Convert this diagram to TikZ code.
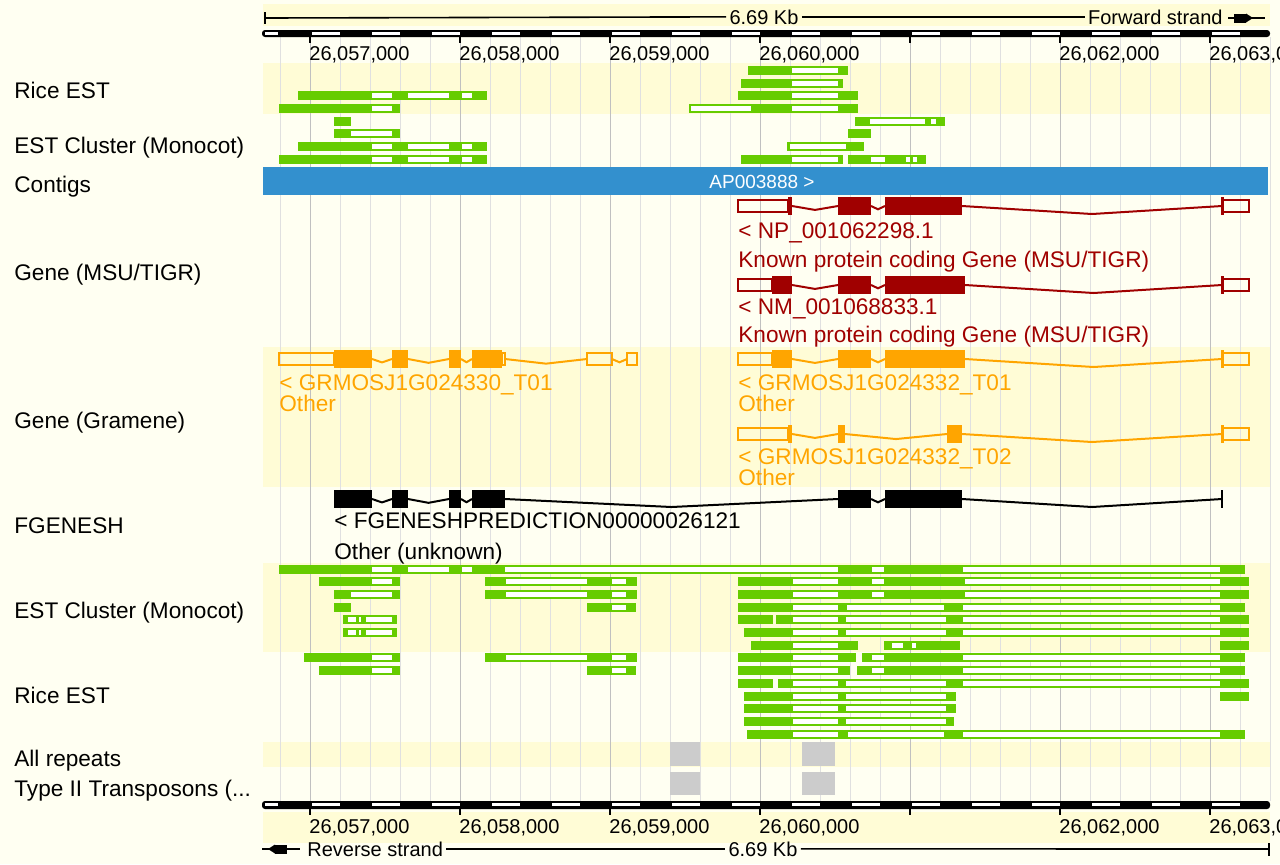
\documentclass[tikz,border=0pt]{standalone}
\usepackage{fontspec}
\setmainfont{Liberation Sans}

\definecolor{cream}{RGB}{255,255,242}
\definecolor{band}{RGB}{255,252,214}
\definecolor{estgreen}{RGB}{102,204,0}
\definecolor{msured}{RGB}{160,0,0}
\definecolor{gramorange}{RGB}{255,165,0}
\definecolor{contigblue}{RGB}{51,144,206}
\definecolor{repeatgrey}{RGB}{204,204,204}
\definecolor{gridlight}{RGB}{224,224,224}
\definecolor{gridmajor}{RGB}{192,192,192}

\tikzset{
  tracklabel/.style={anchor=base west,inner sep=0pt,font=\fontsize{11.3}{13}\selectfont},
  featlabel/.style={anchor=base west,inner sep=0pt,font=\fontsize{11.3}{13}\selectfont},
  rulerlabel/.style={anchor=base west,inner sep=0pt,font=\fontsize{10}{12}\selectfont},
  scaletext/.style={inner xsep=1.5pt,inner ysep=0pt,font=\fontsize{10}{12}\selectfont}
}

% top y, green spans, white spans
\newcommand{\estrow}[3]{%
  \foreach \ga/\gb in {#2}{\fill[estgreen] (\ga,#1) rectangle (\gb,#1+9);}
  \foreach \wa/\wb in {#3}{\fill[white] (\wa,#1+2) rectangle (\wb,#1+7);}}

% colour, centre y, UTR spans, coding spans, intron spans
\newcommand{\transcript}[5]{%
  \foreach \ua/\ub in {#3}{\draw[#1,line width=1pt] (\ua,#2-6) rectangle (\ub,#2+6);}
  \foreach \ca/\cb in {#4}{\fill[#1] (\ca,#2-9) rectangle (\cb,#2+9);}
  \foreach \ia/\ib in {#5}{\draw[#1,line width=1pt]
    (\ia,#2) -- ({(\ia+\ib)/2},{#2+min(8,3+(\ib-\ia)/50)}) -- (\ib,#2);}}

\begin{document}
\begin{tikzpicture}[x=0.5pt,y=-0.5pt]
  \fill[cream] (0,0) rectangle (1280,864);
  \useasboundingbox (0,0) rectangle (1280,864);

  \foreach \ya/\yb in {4/26,63/114,347/487,563/652,742/767,812/843}
    \fill[band] (263,\ya) rectangle (1270,\yb);

  \foreach \g in {0,...,33}
    \draw[gridlight,line width=0.5pt] (280+30*\g,37) -- (280+30*\g,801);
  \foreach \t in {310,460,...,1210}
    \draw[gridmajor,line width=0.5pt] (\t,37) -- (\t,801);

  % scale bars
  \fill[black,rounded corners=1.5] (262,30) rectangle (1270,37);
  \fill[black,rounded corners=1.5] (262,801) rectangle (1270,809);
  \fill[white] (265,32) rectangle (278,35);
  \fill[white] (265,803) rectangle (278,806);
  \foreach \k in {0,...,15}{
    \fill[white] (312+60*\k,32) rectangle (340+60*\k,35);
    \fill[white] (312+60*\k,803) rectangle (340+60*\k,806);
  }
  \foreach \t in {310,460,...,1210}{
    \draw[line width=0.6pt] (\t,37) -- (\t,43);
    \draw[line width=0.6pt] (\t,809) -- (\t,815);
  }
  \foreach \t/\lab in {310/{26,057,000},460/{26,058,000},610/{26,059,000},760/{26,060,000},1060/{26,062,000},1210/{26,063,000}}{
    \node (rtop\t) [rulerlabel] at (\t-1,60) {\lab};
    \node (rbot\t) [rulerlabel] at (\t-1,833) {\lab};
  }

  \coordinate (scaleL) at (265,18);
  \node (kbTop) [scaletext,anchor=base] at (764,24) {6.69 Kb};
  \node (fwd) [scaletext,anchor=base east] at (1226,24) {Forward strand};
  \draw[line width=0.8pt] (265,12) -- (265,24);
  \draw[line width=0.8pt] (scaleL) -- (kbTop.west);
  \draw[line width=0.8pt] (kbTop.east) -- (fwd.west);
  \draw[line width=1pt] (1228,18) -- (1265,18);
  \fill (1234,13.5) rectangle (1246,22.5);
  \fill (1246,13.5) -- (1253,18) -- (1246,22.5) -- cycle;

  \coordinate (scaleR) at (1269,849);
  \node (rev) [scaletext,anchor=base west] at (304,856) {Reverse strand};
  \node (kbBot) [scaletext,anchor=base] at (763,856) {6.69 Kb};
  \draw[line width=0.8pt] (rev.east) -- (kbBot.west);
  \draw[line width=0.8pt] (kbBot.east) -- (scaleR);
  \draw[line width=0.8pt] (1269,843) -- (1269,856);
  \draw[line width=1pt] (262,849) -- (300,849);
  \fill (275,844.5) rectangle (287,853.5);
  \fill (275,844.5) -- (268,849) -- (275,853.5) -- cycle;

  % track names
  \node (lRiceTop) [tracklabel] at (14,98) {Rice EST};
  \node (lClusterTop) [tracklabel] at (14,153) {EST Cluster (Monocot)};
  \node (lContigs) [tracklabel] at (14,192) {Contigs};
  \node (lMsu) [tracklabel] at (14,280) {Gene (MSU/TIGR)};
  \node (lGramene) [tracklabel] at (14,428) {Gene (Gramene)};
  \node (lFgenesh) [tracklabel] at (14,533) {FGENESH};
  \node (lClusterBot) [tracklabel] at (14,618) {EST Cluster (Monocot)};
  \node (lRiceBot) [tracklabel] at (14,703) {Rice EST};
  \node (lRepeats) [tracklabel] at (14,766) {All repeats};
  \node (lTransposons) [tracklabel] at (14,796) {Type II Transposons (...};

  % ESTs, top
  \estrow{66}{748/848}{792/838}
  \estrow{79}{741/843}{792/838}
  \estrow{91}{298/487,738/858}{372/392,408/449,462/472,792/838}
  \estrow{104}{279/400,689/858}{372/392,691/751,792/838}
  \estrow{117}{334/351,855/945}{870/925,931/936}
  \estrow{129}{334/400,848/871}{351/392}
  \estrow{142}{298/487,787/864}{372/392,408/449,462/472,790/846}
  \estrow{155}{279/487,741/843,848/926}{372/392,408/449,462/472,792/838,871/885,906/910,913/917}

  % contig
  \fill[contigblue] (263,167) rectangle (1268,195);
  \node (contig) [anchor=base,inner sep=0pt,white,font=\fontsize{9.5}{11}\selectfont] at (762,188) {AP003888 >};

  % genes
  \transcript{msured}{206}{738/788,1222/1249}{788/792,838/871,885/962,1221/1224}{792/838,871/885,962/1222}
  \node (np) [featlabel,msured] at (738,238) {< NP\_001062298.1};
  \node (npType) [featlabel,msured] at (738,267) {Known protein coding Gene (MSU/TIGR)};
  \transcript{msured}{285}{738/772,1222/1249}{772/792,838/871,885/965,1221/1224}{792/838,871/885,965/1222}
  \node (nm) [featlabel,msured] at (738,314) {< NM\_001068833.1};
  \node (nmType) [featlabel,msured] at (738,342) {Known protein coding Gene (MSU/TIGR)};

  \transcript{gramorange}{359}{279/334,502/505,587/612,627/637}{334/372,392/408,449/461,472/502}{372/392,408/449,461/472,505/587,612/627}
  \node (gr330) [featlabel,gramorange] at (279,390) {< GRMOSJ1G024330\_T01};
  \node (gr330Type) [featlabel,gramorange] at (279,411) {Other};
  \transcript{gramorange}{359}{738/772,1222/1249}{772/792,838/871,885/965,1221/1224}{792/838,871/885,965/1222}
  \node (gr332a) [featlabel,gramorange] at (738,390) {< GRMOSJ1G024332\_T01};
  \node (gr332aType) [featlabel,gramorange] at (738,411) {Other};
  \transcript{gramorange}{434}{738/788,1222/1249}{788/792,838/845,947/962,1221/1224}{792/838,845/947,962/1222}
  \node (gr332b) [featlabel,gramorange] at (738,464) {< GRMOSJ1G024332\_T02};
  \node (gr332bType) [featlabel,gramorange] at (738,485) {Other};

  \transcript{black}{499}{-20/-20}{334/372,392/408,449/461,472/505,838/871,885/962,1221/1223}{372/392,408/449,461/472,505/838,871/885,962/1222}
  \node (fgen) [featlabel] at (334,528) {< FGENESHPREDICTION00000026121};
  \node (fgenType) [featlabel] at (334,559) {Other (unknown)};

  % ESTs, bottom
  \estrow{565}{279/1245}{372/392,408/449,462/472,505/838,872/884,963/1220}
  \estrow{577}{319/400,485/637,738/1249}{372/392,506/587,612/626,793/838,872/884,965/1220}
  \estrow{590}{334/400,485/637,738/1249}{351/392,506/587,612/626,793/838,872/884,965/1220}
  \estrow{603}{334/351,587/636,738/1245}{612/626,793/838,847/944,963/1220}
  \estrow{615}{343/397,738/773,776/1249}{348/356,359/361,366/392,793/838,846/946,963/1220}
  \estrow{628}{343/397,744/1249}{348/356,359/361,366/392,793/838,846/946,963/1220}
  \estrow{641}{751/858,884/960,1220/1249}{793/838,892/903,912/916}
  \estrow{653}{304/400,485/637,738/856,862/1245}{372/392,506/587,612/626,793/838,872/884,963/1220}
  \estrow{666}{319/400,587/636,738/850,857/1245}{372/392,612/626,793/838,872/884,963/1220}
  \estrow{679}{738/773,778/1249}{793/838,846/946,963/1220}
  \estrow{692}{744/956,1220/1249}{793/838,846/946}
  \estrow{704}{744/956}{793/838,846/946}
  \estrow{717}{744/954}{793/838,846/946}
  \estrow{730}{747/1245}{793/838,848/944,963/1220}

  % repeats
  \fill[repeatgrey] (670,742) rectangle (700,766);
  \fill[repeatgrey] (802,742) rectangle (835,766);
  \fill[repeatgrey] (670,772) rectangle (700,795);
  \fill[repeatgrey] (802,772) rectangle (835,795);
\end{tikzpicture}
\end{document}
